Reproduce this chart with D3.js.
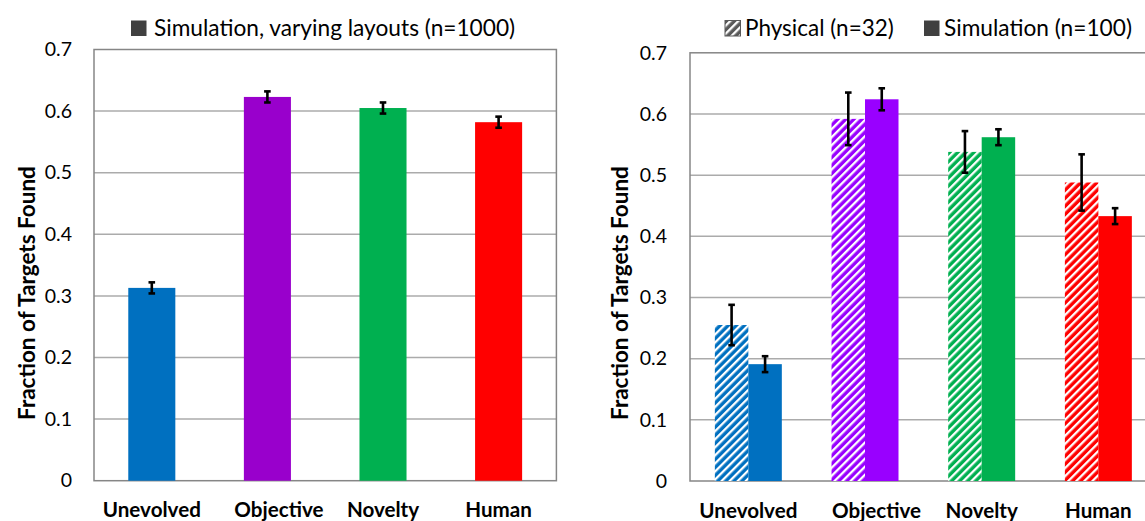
<!DOCTYPE html>
<html>
<head>
<meta charset="utf-8">
<script src="https://cdn.jsdelivr.net/npm/d3@7"></script>
<style>
  html, body { margin: 0; padding: 0; background: #fff; }
  svg { display: block; }
  text { font-family: Lato, "Open Sans", sans-serif; fill: #000; }
</style>
</head>
<body>
<svg id="chart" width="1145" height="521"></svg>
<script>
// Categories shared by both panels
const categories = ["Unevolved", "Objective", "Novelty", "Human"];

// Left panel: simulation with varying layouts (n=1000)
const varyingMeans  = [0.313, 0.623, 0.605, 0.582];
const varyingErrors = [0.009, 0.009, 0.009, 0.009];

// Right panel: physical trials (n=32) vs simulation (n=100)
const physicalMeans    = [0.255, 0.592, 0.538, 0.488];
const physicalErrors   = [0.033, 0.043, 0.034, 0.046];
const simulationMeans  = [0.191, 0.624, 0.562, 0.433];
const simulationErrors = [0.013, 0.018, 0.013, 0.013];

const seriesNames = ["Physical (n=32)", "Simulation (n=100)"];
const leftLegend = "Simulation, varying layouts (n=1000)";

const yTicks = [0, 0.1, 0.2, 0.3, 0.4, 0.5, 0.6, 0.7];
const yTitle = "Fraction of Targets Found";

const leftColors  = ["#0070C0", "#9900CC", "#00B050", "#FF0000"];
const rightColors = ["#0070C0", "#9900FF", "#00B050", "#FF0000"];

const svg = d3.select("#chart");
const defs = svg.append("defs");

// Diagonal white-stripe hatching, one pattern per colour
function hatch(id, color) {
  const p = defs.append("pattern")
    .attr("id", id)
    .attr("patternUnits", "userSpaceOnUse")
    .attr("width", 5.7).attr("height", 5.7)
    .attr("patternTransform", "rotate(45)");
  p.append("rect").attr("width", 5.7).attr("height", 5.7).attr("fill", color);
  p.append("rect").attr("width", 2.3).attr("height", 5.7).attr("fill", "#fff");
}
rightColors.forEach((c, i) => hatch("hatch" + i, c));
hatch("hatchLegend", "#595959");

const gridColor = "#ABABAB";
const axisColor = "#868686";

function panel(cfg) {
  const g = svg.append("g");
  const x = d3.scaleBand().domain(categories)
    .range([cfg.left, cfg.right]).paddingInner(cfg.pad).paddingOuter(cfg.pad / 2);
  const y = d3.scaleLinear().domain([0, 0.7]).range([cfg.bottom, cfg.top]);

  // grid lines
  g.append("g").selectAll("line").data(yTicks.filter(t => t > 0 && t < 0.7)).join("line")
    .attr("x1", cfg.left).attr("x2", cfg.right)
    .attr("y1", d => y(d)).attr("y2", d => y(d))
    .attr("stroke", gridColor).attr("stroke-width", 1.5);

  // plot frame
  g.append("rect")
    .attr("x", cfg.left).attr("y", y(0.7))
    .attr("width", cfg.right - cfg.left).attr("height", y(0) - y(0.7))
    .attr("fill", "none").attr("stroke", axisColor).attr("stroke-width", 1.5);

  // y axis labels
  const yAxis = d3.axisLeft(y).tickValues(yTicks)
    .tickFormat(d => d === 0 ? "0" : d3.format(".1f")(d))
    .tickSize(0).tickPadding(cfg.left - cfg.labelRight);
  const ya = g.append("g").attr("transform", `translate(${cfg.left},0)`).call(yAxis);
  ya.select(".domain").remove();
  ya.selectAll("text").style("font-size", "19.5px").style("font-family", "Lato, sans-serif").attr("fill", "#000");

  // x axis category labels ("Objective" sits a little right of its bars)
  const xAxis = d3.axisBottom(x).tickSize(0).tickPadding(0);
  const xa = g.append("g").attr("transform", `translate(0,${cfg.bottom})`).call(xAxis);
  xa.select(".domain").remove();
  xa.selectAll("text")
    .attr("dy", null).attr("y", 36.5)
    .attr("dx", d => d === "Objective" ? 11.5 : 0)
    .style("font-size", "20.6px").style("font-weight", "bold")
    .style("font-family", "Lato, sans-serif").attr("fill", "#000");

  // y axis title
  g.append("text")
    .attr("transform", `translate(${cfg.titleX},293) rotate(-90)`)
    .attr("text-anchor", "middle")
    .style("font-size", "22.5px").style("font-weight", "bold")
    .text(yTitle);

  return { g, x, y };
}

function errorBars(g, xs, y, means, errs, cap) {
  const eb = g.append("g").attr("stroke", "#000").attr("stroke-width", 2.6);
  means.forEach((m, i) => {
    const cx = xs[i];
    eb.append("line").attr("x1", cx).attr("x2", cx).attr("y1", y(m - errs[i])).attr("y2", y(m + errs[i]));
    eb.append("line").attr("x1", cx - cap).attr("x2", cx + cap).attr("y1", y(m - errs[i])).attr("y2", y(m - errs[i]));
    eb.append("line").attr("x1", cx - cap).attr("x2", cx + cap).attr("y1", y(m + errs[i])).attr("y2", y(m + errs[i]));
  });
}

// ---- Left panel ----
const L = panel({ left: 94, right: 556.4, top: 49.5, bottom: 480.7, pad: 0.593, labelRight: 72, titleX: 35 });
L.g.append("g").selectAll("rect").data(varyingMeans).join("rect")
  .attr("x", (d, i) => L.x(categories[i]))
  .attr("width", L.x.bandwidth())
  .attr("y", d => L.y(d))
  .attr("height", d => L.y(0) - L.y(d))
  .attr("fill", (d, i) => leftColors[i]);
errorBars(L.g, categories.map(c => L.x(c) + L.x.bandwidth() / 2), L.y, varyingMeans, varyingErrors, 3.3);

// legend (left)
L.g.append("rect").attr("x", 131).attr("y", 20.5).attr("width", 15.5).attr("height", 15.5).attr("fill", "#404040");
L.g.append("text").attr("x", 154).attr("y", 35.5).style("font-size", "22.7px").text(leftLegend);

// ---- Right panel ----
const R = panel({ left: 690, right: 1156.7, top: 52.8, bottom: 481, pad: 0.426, labelRight: 667, titleX: 628 });
const inner = d3.scaleBand().domain(seriesNames).range([0, R.x.bandwidth()]);
const rows = [
  { name: seriesNames[0], means: physicalMeans, errs: physicalErrors, fill: i => `url(#hatch${i})` },
  { name: seriesNames[1], means: simulationMeans, errs: simulationErrors, fill: i => rightColors[i] }
];
rows.forEach(s => {
  R.g.append("g").selectAll("rect").data(s.means).join("rect")
    .attr("x", (d, i) => R.x(categories[i]) + inner(s.name))
    .attr("width", inner.bandwidth())
    .attr("y", d => R.y(d))
    .attr("height", d => R.y(0) - R.y(d))
    .attr("fill", (d, i) => s.fill(i));
  errorBars(R.g, categories.map(c => R.x(c) + inner(s.name) + inner.bandwidth() / 2), R.y, s.means, s.errs, 3.3);
});

// legend (right)
R.g.append("rect").attr("x", 725).attr("y", 20.5).attr("width", 15.5).attr("height", 15.5)
  .attr("fill", "url(#hatchLegend)").attr("stroke", "#595959").attr("stroke-width", 1);
R.g.append("text").attr("x", 745).attr("y", 35.5).style("font-size", "22.5px").text(seriesNames[0]);
R.g.append("rect").attr("x", 924).attr("y", 20.5).attr("width", 15.5).attr("height", 15.5).attr("fill", "#404040");
R.g.append("text").attr("x", 944).attr("y", 35.5).style("font-size", "22.7px").text(seriesNames[1]);
</script>
</body>
</html>
